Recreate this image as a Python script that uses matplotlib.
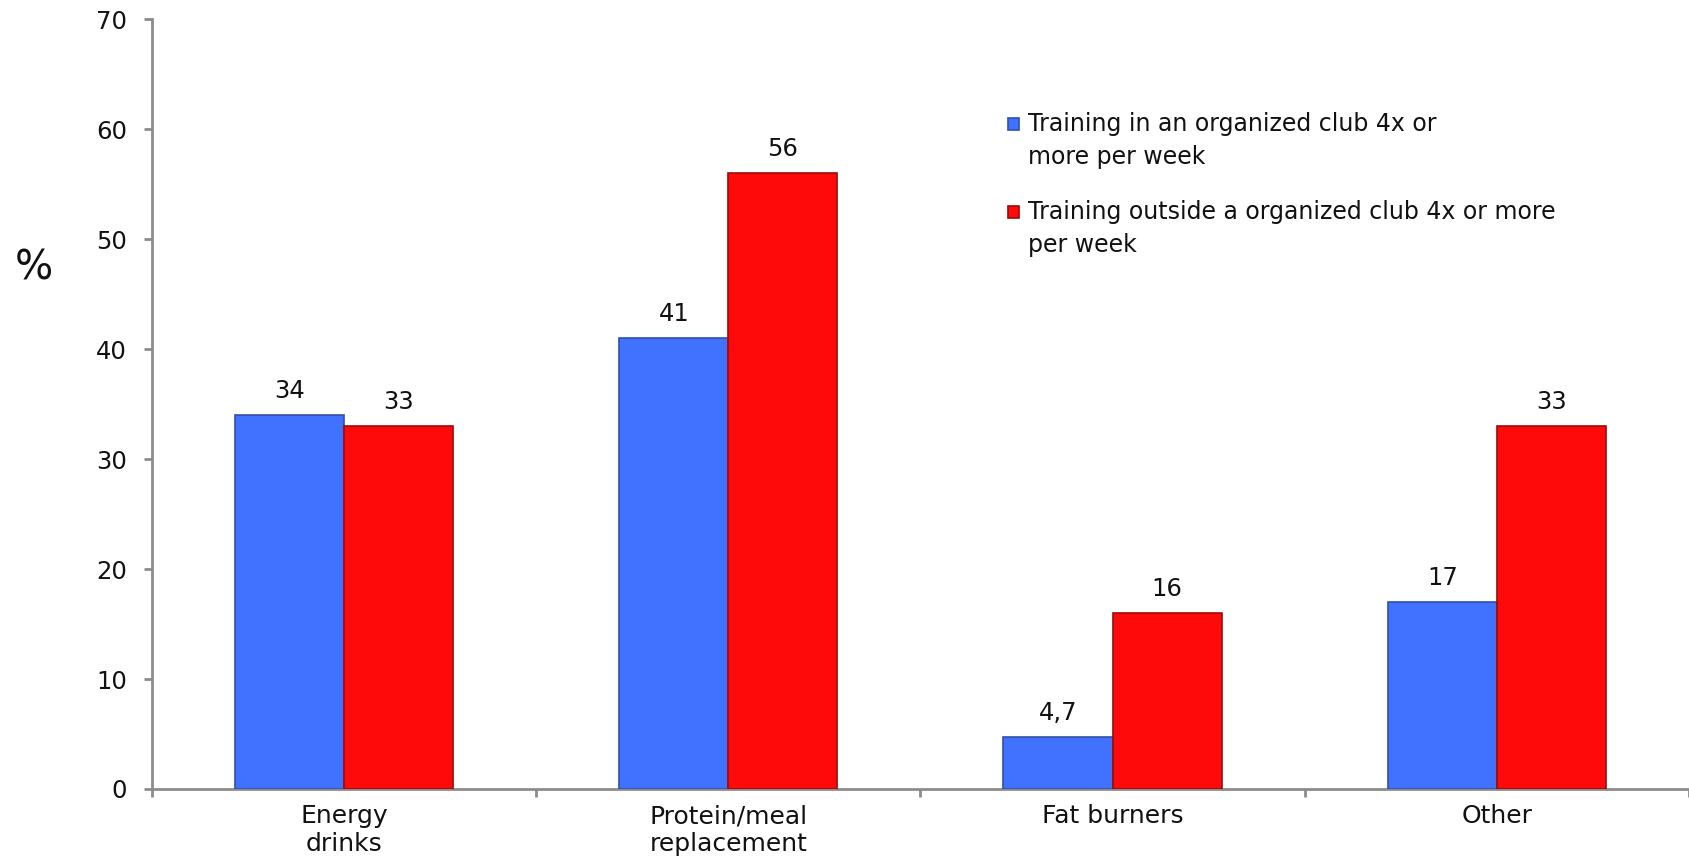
import matplotlib
matplotlib.use("Agg")
import matplotlib.pyplot as plt
import numpy as np
from matplotlib.patches import Rectangle

categories = ["Energy\ndrinks", "Protein/meal\nreplacement", "Fat burners", "Other"]
in_club = [34, 41, 4.7, 17]
outside_club = [33, 56, 16, 33]
in_club_labels = ["34", "41", "4,7", "17"]
outside_club_labels = ["33", "56", "16", "33"]
series_names = ["Training in an organized club 4x or\nmore per week",
                "Training outside a organized club 4x or more\nper week"]
yticks = [0, 10, 20, 30, 40, 50, 60, 70]

BLUE = "#4072FF"
RED = "#FF0A0A"
BLUE_EDGE = "#3050A8"
RED_EDGE = "#9A0A0A"
AXIS = "#8C8C8C"
INK = "#111111"

plt.rcParams["font.family"] = ["DejaVu Sans"]

fig = plt.figure(figsize=(16.9, 8.65), dpi=100)
ax = fig.add_axes([0.0899, 0.0879, 0.9095, 0.8899])

x = np.arange(len(categories))
w = 0.284
b1 = ax.bar(x - w / 2, in_club, width=w, color=BLUE, edgecolor=BLUE_EDGE,
            linewidth=1.2, zorder=3)
b2 = ax.bar(x + w / 2, outside_club, width=w, color=RED, edgecolor=RED_EDGE,
            linewidth=1.2, zorder=3)

for bars, labels in ((b1, in_club_labels), (b2, outside_club_labels)):
    for rect, lab in zip(bars, labels):
        ax.annotate(lab, (rect.get_x() + rect.get_width() / 2, rect.get_height()),
                    xytext=(0, 9), textcoords="offset points",
                    ha="center", va="bottom", fontsize=17.5, color=INK)

ax.set_xlim(-0.5, len(categories) - 0.5)
ax.set_ylim(0, 70)
ax.set_yticks(yticks)
ax.set_yticklabels([str(t) for t in yticks])
ax.set_xticks(x)
ax.set_xticklabels(categories, fontsize=18, linespacing=1.18)
ax.set_xticks(np.arange(-0.5, len(categories)), minor=True)

ax.tick_params(axis="y", length=6, width=2, color=AXIS, pad=12,
               labelsize=17.5, labelcolor=INK)
ax.tick_params(axis="x", which="major", length=0, pad=11,
               labelcolor=INK)
ax.tick_params(axis="x", which="minor", length=6, width=2, color=AXIS,
               direction="out")

for side in ("top", "right"):
    ax.spines[side].set_visible(False)
for side in ("left", "bottom"):
    ax.spines[side].set_color(AXIS)
    ax.spines[side].set_linewidth(2)

fig.text(0.009, 0.69, "%", fontsize=29, color=INK, ha="left", va="center")

# legend drawn in figure pixel coordinates
W, H = 1690, 865
entries = [(BLUE, BLUE_EDGE, series_names[0], 124),
           (RED, RED_EDGE, series_names[1], 212)]
for face, edge, text, yc in entries:
    fig.patches.append(Rectangle((1008 / W, 1 - (yc + 6) / H), 11 / W, 12 / H,
                                 transform=fig.transFigure, facecolor=face,
                                 edgecolor=edge, linewidth=1.2))
    for i, line in enumerate(text.split("\n")):
        fig.text(1028 / W, 1 - (yc + 33 * i) / H, line, fontsize=17,
                 color=INK, ha="left", va="center")

fig.savefig("out.png", dpi=100)
